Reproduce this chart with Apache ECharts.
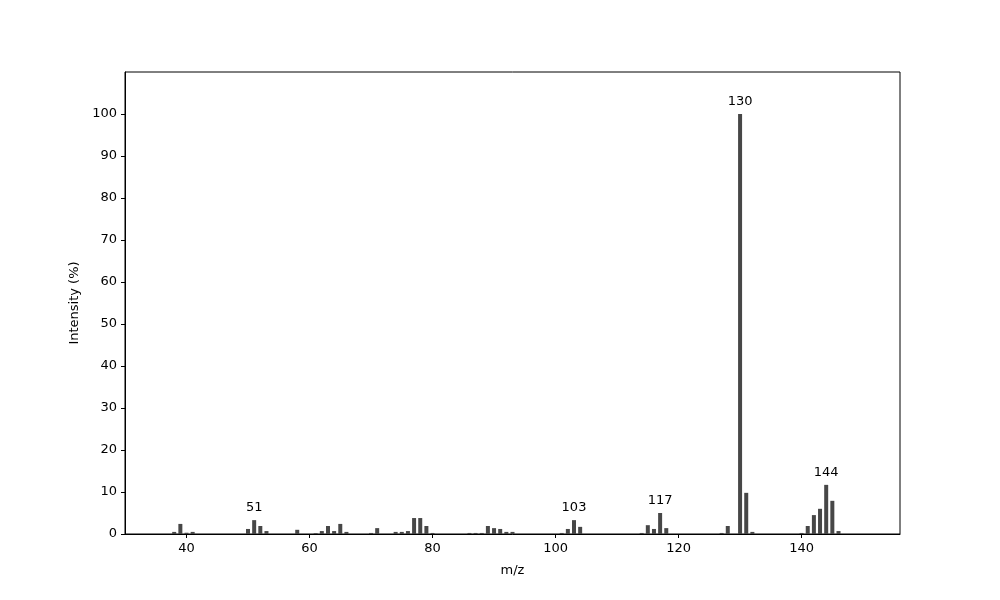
<!DOCTYPE html>
<html>
<head>
<meta charset="utf-8">
<script src="https://cdn.jsdelivr.net/npm/echarts@6/dist/echarts.min.js"></script>
<style>
    html, body { margin: 0; padding: 0; background: #fff; }
    #chart { width: 1000px; height: 600px; }
</style>
</head>
<body>
<div id="chart"></div>
<script>
// 质谱数据 (m/z 与相对强度)
const mzValues = [38, 39, 40, 41, 50, 51, 52, 53, 58, 61, 62, 63, 64, 65, 66,
    70, 71, 74, 75, 76, 77, 78, 79, 80, 86, 87, 88, 89, 90, 91, 92, 93,
    101, 102, 103, 104, 114, 115, 116, 117, 118, 127, 128, 130, 131, 132,
    140, 141, 142, 143, 144, 145, 146];
const intensities = [0.5, 2.4, 0.3, 0.5, 1.2, 3.3, 1.9, 0.7, 1.0, 0.2, 0.7, 1.9, 0.7, 2.4, 0.5,
    0.25, 1.4, 0.5, 0.5, 0.7, 3.8, 3.8, 1.9, 0.25, 0.25, 0.25, 0.25, 1.9, 1.4, 1.2, 0.5, 0.5,
    0.25, 1.2, 3.3, 1.7, 0.25, 2.1, 1.2, 5.0, 1.4, 0.25, 1.9, 100, 9.8, 0.5,
    0.25, 1.9, 4.5, 6.0, 11.7, 7.9, 0.7];
const labeledPeaks = [51, 103, 117, 130, 144];
const xTicks = [40, 60, 80, 100, 120, 140];
const yTicks = [0, 10, 20, 30, 40, 50, 60, 70, 80, 90, 100];

document.addEventListener('DOMContentLoaded', function () {
    const chart = echarts.init(document.getElementById('chart'));
    const textFont = { fontFamily: 'DejaVu Sans', fontSize: 13, color: '#000' };

    const barData = mzValues.map((mz, i) => ({
        value: [mz, intensities[i]],
        label: {
            show: labeledPeaks.includes(mz),
            position: 'top',
            distance: 6,
            formatter: String(mz),
            ...textFont
        }
    }));

    chart.setOption({
        animation: false,
        grid: {
            left: 125, right: 100, top: 72, bottom: 66,
            show: true, borderColor: '#000', borderWidth: 1,
            backgroundColor: 'transparent'
        },
        xAxis: {
            type: 'value',
            min: 30,
            max: 156,
            name: 'm/z',
            nameLocation: 'middle',
            nameGap: 30,
            nameTextStyle: textFont,
            axisLine: { show: true, lineStyle: { color: '#000' } },
            axisTick: { show: true, length: 4, customValues: xTicks, lineStyle: { color: '#000' } },
            axisLabel: { customValues: xTicks, margin: 8, ...textFont },
            splitLine: { show: false }
        },
        yAxis: {
            type: 'value',
            min: 0,
            max: 110,
            name: 'Intensity (%)',
            nameLocation: 'middle',
            nameGap: 42,
            nameRotate: 90,
            nameTextStyle: textFont,
            axisLine: { show: true, lineStyle: { color: '#000' } },
            axisTick: { show: true, length: 4, customValues: yTicks, lineStyle: { color: '#000' } },
            axisLabel: { customValues: yTicks, margin: 8, ...textFont },
            splitLine: { show: false }
        },
        series: [{
            type: 'bar',
            barWidth: 4,
            itemStyle: { color: '#474747' },
            data: barData
        }]
    });
});
</script>
</body>
</html>
